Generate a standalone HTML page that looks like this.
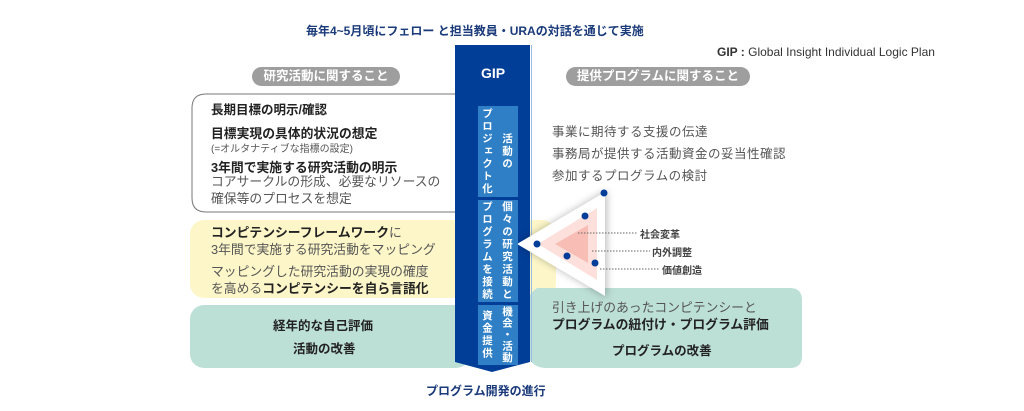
<!DOCTYPE html>
<html><head><meta charset="utf-8"><style>
body{margin:0;width:1024px;height:411px;background:#fff;position:relative;overflow:hidden;font-family:"Liberation Sans","Noto Sans CJK JP",sans-serif;color:#222}
.a{position:absolute;white-space:nowrap}
.b{font-weight:bold}
.g{color:#555}
.pill{position:absolute;background:#9e9e9e;color:#fff;font-weight:bold;font-size:12.5px;border-radius:10px;text-align:center;line-height:19px}
.vb{position:absolute;background:#2f7fc6}
.c{position:absolute;color:#fff;writing-mode:vertical-rl;font-size:10.5px;font-weight:bold;line-height:14px;width:14px;text-align:center;white-space:nowrap}
</style></head><body>
<svg width="1024" height="411" style="position:absolute;left:0;top:0">
<defs><filter id="sh" x="-30%" y="-30%" width="160%" height="160%"><feGaussianBlur stdDeviation="4"/></filter></defs>
<rect x="190" y="220" width="366" height="78" rx="14" fill="#fcf6c8"/>
<rect x="190" y="305" width="280" height="63" rx="14" fill="#bde0d6"/>
<path d="M537 288 H790 Q802 288 802 300 V356 Q802 368 790 368 H545 Q530 368 522 345 L518 330 Q525 295 537 288 Z" fill="#bde0d6"/>
<path d="M206 94 H455 Q466 94 470 110 L478 150 L470 195 Q466 212 455 212 H206 Q192 212 192 198 V108 Q192 94 206 94 Z" fill="#fff" stroke="#777" stroke-width="1"/>
<path d="M455 45 H530 V362 L492 372 L455 362 Z" fill="#003e98"/>
<line x1="531.5" y1="45" x2="531.5" y2="362" stroke="#9bbbe0" stroke-width="1"/>
<path d="M517 244 L607 190 L607 298 Z" fill="#000" opacity="0.25" filter="url(#sh)"/>
<path d="M517 244 L605 192 L605 296 Z" fill="#fff"/>
<path d="M538 244 L597 208 L597 280 Z" fill="#fde0dc"/>
<path d="M555 244 L588 225 L588 263 Z" fill="#f8beb6"/>
<g stroke="#666" stroke-width="1" stroke-dasharray="1.5,1.5">
<line x1="578" y1="233" x2="638" y2="233"/>
<line x1="592" y1="251" x2="650" y2="251"/>
<line x1="600" y1="269" x2="660" y2="269"/>
</g>
<g fill="#003e98">
<circle cx="604" cy="193" r="3.5"/><circle cx="585" cy="216" r="3.5"/><circle cx="537" cy="244" r="3.5"/><circle cx="567" cy="256" r="3.5"/><circle cx="595" cy="263" r="3.5"/>
</g>
</svg>
<div class="a b" style="left:306px;top:22px;font-size:12px;color:#1a3a7a">毎年4~5月頃にフェロー と担当教員・URAの対話を通じて実施</div>
<div class="a" style="left:717px;top:45px;font-size:12px;color:#333"><b>GIP :</b> Global Insight Individual Logic Plan</div>
<div class="pill" style="left:252px;top:67px;width:148px">研究活動に関すること</div>
<div class="pill" style="left:566px;top:67px;width:184px">提供プログラムに関すること</div>
<div class="a b" style="left:474px;top:65px;font-size:14px;color:#fff;width:38px;text-align:center">GIP</div>
<div class="vb" style="left:478px;top:106px;width:40px;height:91px"></div>
<div class="vb" style="left:478px;top:200px;width:40px;height:102px"></div>
<div class="vb" style="left:478px;top:305px;width:40px;height:60px"></div>
<div class="c" style="left:500px;top:106px;height:91px;letter-spacing:2px">活動の</div>
<div class="c" style="left:480px;top:106px;height:91px;letter-spacing:2px">プロジェクト化</div>
<div class="c" style="left:500px;top:200px;height:102px;letter-spacing:2px">個々の研究活動と</div>
<div class="c" style="left:480px;top:200px;height:102px;letter-spacing:2px">プログラムを接続</div>
<div class="c" style="left:500px;top:305px;height:60px;letter-spacing:1px">機会・活動</div>
<div class="c" style="left:480px;top:305px;height:60px;letter-spacing:2px">資金提供</div>
<div class="a b" style="left:211px;top:99px;font-size:12.5px">長期目標の明示/確認</div>
<div class="a b" style="left:211px;top:123px;font-size:12.8px">目標実現の具体的状況の想定</div>
<div class="a g" style="left:211px;top:140px;font-size:10px">(=オルタナティブな指標の設定)</div>
<div class="a b" style="left:211px;top:157px;font-size:12.8px">3年間で実施する研究活動の明示</div>
<div class="a g" style="left:211px;top:173px;font-size:12.8px;line-height:17px">コアサークルの形成、必要なリソースの<br>確保等のプロセスを想定</div>
<div class="a" style="left:211px;top:224px;font-size:12.8px;line-height:17px"><b>コンピテンシーフレームワーク</b><span class="g">に</span><br><span class="g">3年間で実施する研究活動をマッピング</span></div>
<div class="a" style="left:211px;top:263px;font-size:12.8px;line-height:17px"><span class="g">マッピングした研究活動の実現の確度</span><br><span class="g">を高める</span><b>コンピテンシーを自ら言語化</b></div>
<div class="a b" style="left:273px;top:315px;font-size:12.5px">経年的な自己評価</div>
<div class="a b" style="left:293px;top:338px;font-size:12.5px">活動の改善</div>
<div class="a g" style="left:552px;top:121px;font-size:12.5px;line-height:22px;letter-spacing:0.5px">事業に期待する支援の伝達<br>事務局が提供する活動資金の妥当性確認<br>参加するプログラムの検討</div>
<div class="a b" style="left:640px;top:226px;font-size:10px;color:#444">社会変革</div>
<div class="a b" style="left:652px;top:244px;font-size:10px;color:#444">内外調整</div>
<div class="a b" style="left:662px;top:262px;font-size:10px;color:#444">価値創造</div>
<div class="a" style="left:552px;top:299px;font-size:12.8px;line-height:17px"><span class="g">引き上げのあったコンピテンシーと</span><br><b>プログラムの紐付け・プログラム評価</b></div>
<div class="a b" style="left:612px;top:340px;font-size:12.5px">プログラムの改善</div>
<div class="a b" style="left:426px;top:382px;font-size:12px;color:#1a3a7a">プログラム開発の進行</div>
</body></html>
